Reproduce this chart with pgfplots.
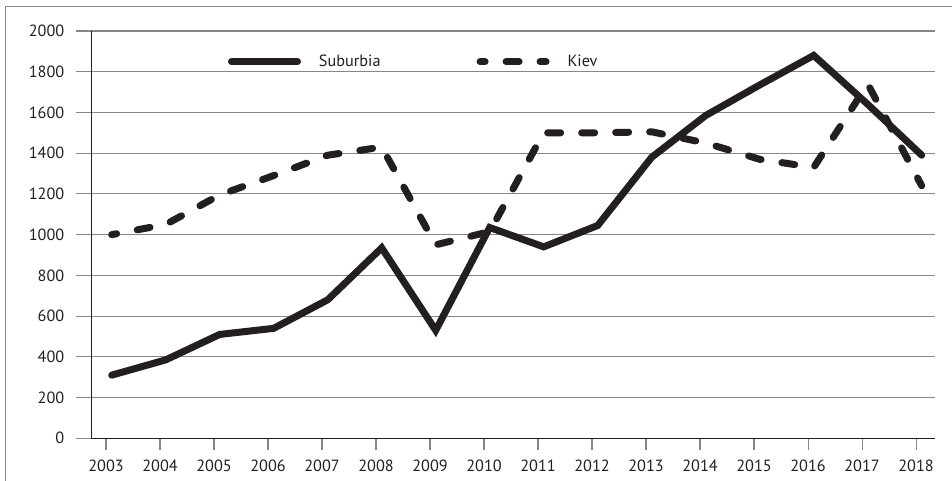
\documentclass[border=0pt]{standalone}
\usepackage{pgfplots}
\pgfplotsset{compat=1.18}
\usepackage{fontspec}
\setmainfont{PT Sans}
\definecolor{ink}{RGB}{35,31,32}
\definecolor{gridgray}{RGB}{135,135,135}
\begin{document}
\begin{tikzpicture}
\useasboundingbox (0,0) rectangle (952bp,481bp);
\draw[gridgray, line width=1.3bp] (5.5bp,0) -- (5.5bp,474.5bp) -- (952bp,474.5bp);
\begin{axis}[
  at={(91bp,42.7bp)}, anchor=south west,
  width=844bp, height=407.3bp, scale only axis,
  xmin=-0.383, xmax=15.246, ymin=0, ymax=2000,
  axis x line=bottom, axis y line=left,
  axis line style={-, ink, line width=1bp},
  ytick={0,200,400,600,800,1000,1200,1400,1600,1800,2000},
  xtick={-0.105,0.895,1.895,2.895,3.895,4.895,5.895,6.895,7.895,8.895,9.895,10.895,11.895,12.895,13.895,14.895},
  xticklabels={2003,2004,2005,2006,2007,2008,2009,2010,2011,2012,2013,2014,2015,2016,2017,2018},
  ymajorgrids, grid style={gridgray, line width=1.1bp},
  tick align=outside,
  tick style={gridgray, line width=1.1bp},
  xtick style={/pgfplots/major tick length=12bp},
  ytick style={/pgfplots/major tick length=15bp},
  tick label style={font=\fontsize{16.3}{19}\selectfont, text=ink},
  yticklabel style={xshift=-19bp},
  xticklabel style={yshift=-14bp},
  /pgf/number format/assume math mode=true,
  scaled y ticks=false,
  yticklabel style={/pgf/number format/1000 sep={}},
  legend columns=2,
  legend style={at={(rel axis cs:0.1623,0.9246)}, anchor=west, draw=none, fill=none,
    inner sep=0pt, outer sep=0pt, font=\fontsize{16.3}{19}\selectfont,
    nodes={inner sep=0pt, text=ink},
    /tikz/every odd column/.style={column sep=18bp},
    /tikz/every even column/.style={column sep=96bp}},
  legend image code/.code={\draw[#1] (3.5bp,0bp) -- (69.5bp,0bp);},
]
\addplot[ink, line width=7bp, line cap=round, line join=miter] coordinates {
(0,310) (1,385) (2,510) (3,540) (4,680) (5,935) (6,530) (7,1035) (8,940) (9,1045) (10,1380) (11,1585) (12,1735) (13,1880) (14,1640) (15,1390)};
\addlegendentry{Suburbia}
\addplot[ink, line width=7bp, line cap=round, line join=miter, dash pattern=on 13bp off 21bp, dash phase=8bp] coordinates {
(0,1000) (1,1050) (2,1195) (3,1290) (4,1390) (5,1430) (6,950) (7,1015) (8,1500) (9,1500) (10,1505) (11,1450) (12,1370) (13,1330) (14,1740) (15,1240)};
\addlegendentry{Kiev}
\end{axis}
\end{tikzpicture}
\end{document}
